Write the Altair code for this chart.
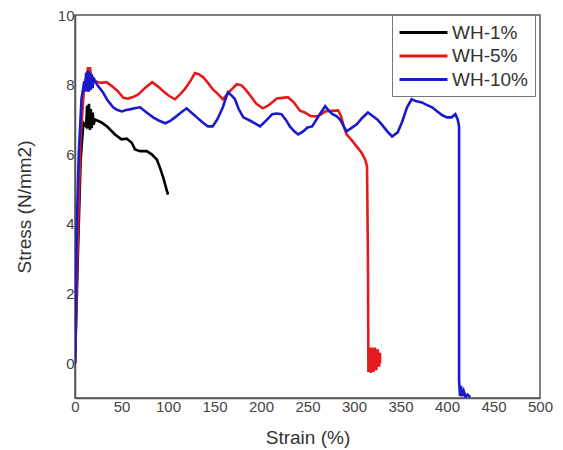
import altair as alt
import pandas as pd

series_names = ["WH-1%", "WH-5%", "WH-10%"]
series_colors = ["#000000", "#e41a1c", "#1a1acd"]

black_x = [0, 3, 6, 9, 12, 13, 14, 15, 16, 17, 18, 19, 20, 21.5, 28, 34, 43, 50, 55.6, 61, 64.5, 70, 77, 82.5, 88, 91.4, 95, 98, 100]
black_y = [0, 3.0, 5.8, 6.9, 6.8, 7.4, 6.75, 7.45, 6.7, 7.3, 6.75, 7.2, 6.85, 7.0, 6.92, 6.81, 6.57, 6.43, 6.45, 6.33, 6.14, 6.09, 6.09, 6.0, 5.85, 5.61, 5.32, 5.03, 4.84]

red_x = [0, 3, 6, 10, 13, 14, 15, 16, 17, 19, 21.5, 28, 34, 40, 46, 52, 57, 63, 68, 75, 83, 89, 95, 101, 107.5, 113, 118, 124, 129, 133, 138, 143, 148, 154, 159, 166, 174, 179, 183, 188, 195, 202, 208, 217, 223, 229, 235, 242, 247, 253, 260, 265, 269, 276, 283, 286, 289, 292, 297, 303, 308, 312, 314, 315, 315.5, 317, 318, 319.5, 321, 322.5, 324, 325.5, 327, 328, 328]
red_y = [0, 3.5, 6.5, 8.0, 8.3, 8.5, 8.4, 8.5, 8.3, 8.2, 8.1, 8.05, 8.07, 7.95, 7.81, 7.62, 7.6, 7.65, 7.72, 7.9, 8.07, 7.95, 7.81, 7.68, 7.58, 7.72, 7.87, 8.1, 8.33, 8.3, 8.21, 8.05, 7.87, 7.72, 7.58, 7.8, 8.01, 7.98, 7.87, 7.7, 7.45, 7.32, 7.4, 7.6, 7.62, 7.64, 7.5, 7.25, 7.2, 7.1, 7.09, 7.15, 7.23, 7.25, 7.26, 7.1, 6.8, 6.57, 6.42, 6.22, 6.05, 5.85, 5.65, 3.0, -0.25, 0.45, -0.28, 0.45, -0.25, 0.45, -0.2, 0.4, -0.1, 0.3, 0.0]

blue_x = [0, 1, 2, 4, 7, 10, 11, 12, 13, 14, 15, 16, 17, 18, 19, 20, 21.5, 25, 30, 35, 41, 45, 50.5, 55, 59, 64, 70, 77, 84, 90, 97, 102, 107.5, 114, 120, 125, 131, 137, 143, 148, 153, 159, 162, 164.5, 168, 172, 176, 181, 188, 194, 199, 206, 212, 217, 222, 227, 231, 236, 240, 245, 250, 255, 262, 269, 273, 277, 281, 285, 289, 292, 297, 303, 309, 315, 320, 325, 330, 336, 341, 347, 352, 357, 362, 367, 373, 378, 384, 390, 395, 400, 405, 409, 411.5, 413, 413, 413, 414, 415, 416.5, 418, 420, 422, 425]
blue_y = [0, 2, 4, 6, 7.6, 8.1, 7.8, 8.35, 7.8, 8.4, 7.8, 8.35, 7.85, 8.3, 7.9, 8.2, 8.1, 7.95, 7.78, 7.55, 7.35, 7.28, 7.23, 7.27, 7.29, 7.32, 7.35, 7.2, 7.06, 6.97, 6.89, 6.95, 7.06, 7.2, 7.32, 7.2, 7.06, 6.92, 6.8, 6.8, 7.0, 7.35, 7.6, 7.78, 7.7, 7.58, 7.3, 7.06, 6.97, 6.88, 6.8, 6.98, 7.15, 7.17, 7.15, 6.98, 6.8, 6.65, 6.57, 6.65, 6.77, 6.8, 7.1, 7.38, 7.25, 7.15, 7.1, 7.0, 6.8, 6.66, 6.75, 6.86, 7.05, 7.2, 7.1, 7.0, 6.85, 6.65, 6.51, 6.63, 6.95, 7.35, 7.58, 7.52, 7.49, 7.42, 7.35, 7.22, 7.12, 7.06, 7.06, 7.15, 7.0, 6.8, 2.0, -0.5, -0.95, -0.65, -0.95, -0.8, -0.97, -0.9, -0.97]

x_ticks = [0, 50, 100, 150, 200, 250, 300, 350, 400, 450, 500]
y_ticks = [0, 2, 4, 6, 8, 10]

frames = []
for name, xs, ys in zip(series_names, [black_x, red_x, blue_x], [black_y, red_y, blue_y]):
    frames.append(pd.DataFrame({"strain": xs, "stress": ys, "series": name, "i": range(len(xs))}))
df = pd.concat(frames, ignore_index=True)

FONT = "Liberation Sans"

color = alt.Color(
    "series:N",
    scale=alt.Scale(domain=series_names, range=series_colors),
    sort=series_names,
    legend=alt.Legend(
        title=None, orient="none", legendX=317, legendY=0,
        symbolType="M-2.4,0H2.4", symbolSize=400, symbolStrokeWidth=3,
        symbolOffset=14, symbolFillColor="transparent",
        labelFontSize=19, labelFont=FONT, labelColor="#333333",
        strokeColor="#777777", fillColor="white", padding=6,
        rowPadding=1.5, labelOffset=17,
    ),
)

x_enc = alt.X(
    "strain:Q",
    scale=alt.Scale(domain=[0, 500], nice=False, zero=False),
    axis=alt.Axis(
        title="Strain (%)", values=x_ticks, ticks=False, tickSize=0, grid=False,
        labelPadding=1, labelFontSize=15, labelFont=FONT, labelColor="#444444",
        titleFontSize=19, titleFont=FONT, titleFontWeight="normal", titleColor="#333333",
        titleX=232.5, titleY=39, titleBaseline="middle", titleAlign="center",
        domainColor="#555555", domainWidth=1.5, labelFlush=False,
    ),
)
y_enc = alt.Y(
    "stress:Q",
    scale=alt.Scale(domain=[-1, 10], nice=False, zero=False),
    axis=alt.Axis(
        title="Stress (N/mm2)", values=y_ticks, ticks=False, tickSize=0, grid=False,
        labelPadding=1, labelFontSize=15, labelFont=FONT, labelColor="#444444",
        titleFontSize=19, titleFont=FONT, titleFontWeight="normal", titleColor="#333333",
        titleX=-51, titleY=191.5, titleAngle=270, titleBaseline="middle", titleAlign="center",
        domainColor="#555555", domainWidth=1.5, labelFlush=False,
    ),
)

layers = []
for name in series_names:
    layers.append(
        alt.Chart(df)
        .transform_filter(alt.datum.series == name)
        .mark_line(strokeWidth=2.6, clip=True)
        .encode(x=x_enc, y=y_enc, color=color, order=alt.Order("i:Q"))
    )

chart = (
    alt.layer(*layers)
    .properties(
        width=465, height=383,
        autosize=alt.AutoSizeParams(type="none"),
        padding={"left": 75, "top": 15, "right": 23, "bottom": 52},
        background="white",
    )
    .configure_view(stroke="#555555", strokeWidth=1.5)
)

chart.save("out.html", embed_options={"renderer": "svg", "actions": False})
